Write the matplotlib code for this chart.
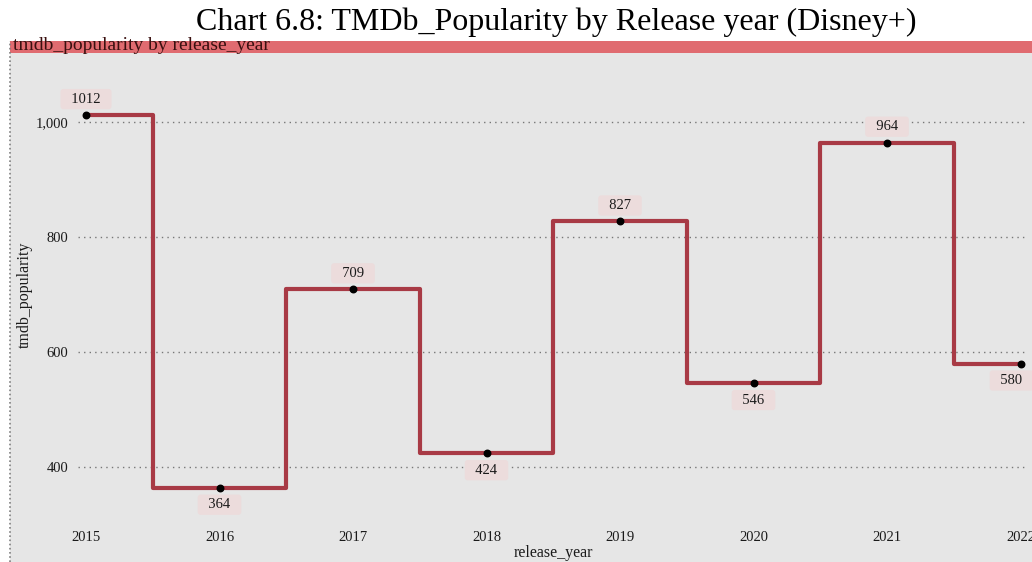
import matplotlib
matplotlib.use("Agg")
import matplotlib.pyplot as plt
from matplotlib.patches import Rectangle
from matplotlib.lines import Line2D

years = [2015, 2016, 2017, 2018, 2019, 2020, 2021, 2022]
popularity = [1012, 364, 709, 424, 827, 546, 964, 580]
yticks = [400, 600, 800, 1000]
ytick_labels = ["400", "600", "800", "1,000"]

W, H = 1032, 562
plt.rcParams['font.family'] = ['Liberation Serif', 'DejaVu Serif']
fig = plt.figure(figsize=(W / 100, H / 100), dpi=100)
fig.patch.set_facecolor('white')

def fx(px):
    return px / W

def fy(py):
    return 1 - py / H

# gray panel and banner
fig.patches.append(Rectangle((fx(10), 0), 1 - fx(10), fy(41), transform=fig.transFigure,
                             facecolor='#e6e6e6', edgecolor='none', zorder=0))
fig.patches.append(Rectangle((fx(10), fy(53)), 1 - fx(10), fy(41) - fy(53), transform=fig.transFigure,
                             facecolor='#e06b70', edgecolor='none', zorder=1))
fig.lines.append(Line2D([fx(10), fx(10)], [0, fy(41)], transform=fig.transFigure,
                        color='#808080', lw=1.2, ls=(0, (1, 1.5)), zorder=2))
fig.text(fx(556), fy(22), "Chart 6.8: TMDb_Popularity by Release year (Disney+)",
         ha='center', va='center', fontsize=23, color='black', zorder=3)
fig.text(fx(13), fy(46), "tmdb_popularity by release_year", ha='left', va='center',
         fontsize=14, color='#3a1010', zorder=3)

left, right, top, bottom = 78, 1026, 53, 520
ax = fig.add_axes([fx(left), fy(bottom), fx(right - left), fy(top) - fy(bottom)])
ax.set_zorder(5)
ax.set_facecolor('none')
ppy = 133.5
ax.set_xlim(2015 - (86 - left) / ppy, 2022 + (right - 1020.5) / ppy)
ax.set_ylim(400 - (bottom - 467) / 0.575, 1000 + (122 - top) / 0.575)
for s in ax.spines.values():
    s.set_visible(False)

ax.set_yticks(yticks)
ax.set_yticklabels(ytick_labels)
ax.set_xticks(years)
ax.set_xticklabels([str(y) for y in years])
ax.tick_params(axis='both', length=0, labelsize=10.5, colors='#1a1a1a')
ax.tick_params(axis='x', pad=8)
ax.tick_params(axis='y', pad=7)
ax.grid(axis='y', color='#777777', ls=(0, (1, 3)), lw=1.0)
ax.grid(axis='x', visible=False)
ax.set_axisbelow(True)

ax.step(years, popularity, where='mid', color='#a83a45', lw=3, zorder=3, clip_on=False)
ax.scatter(years, popularity, s=22, color='black', zorder=4, clip_on=False)

for i, (x, v) in enumerate(zip(years, popularity)):
    prev = popularity[i - 1] if i > 0 else None
    above = prev is None or v >= prev
    dy = 16 if above else -17
    dx = -9 if i == len(years) - 1 else 0
    ax.annotate("  " + str(v) + "  ", (x, v), xytext=(dx, dy), textcoords='offset pixels',
                ha='center', va='center', fontsize=10.5, color='#1a1a1a', zorder=5,
                annotation_clip=False,
                bbox=dict(boxstyle='round,pad=0.25,rounding_size=0.2', fc='#ecdcdc', ec='none'))

fig.text(fx(553), fy(553), "release_year", ha='center', va='center', fontsize=11.5,
         color='#1a1a1a', zorder=6)
fig.text(fx(25), fy(295), "tmdb_popularity", ha='center', va='center', rotation=90,
         fontsize=11.5, color='#1a1a1a', zorder=6)

fig.savefig('out.png', dpi=100)
